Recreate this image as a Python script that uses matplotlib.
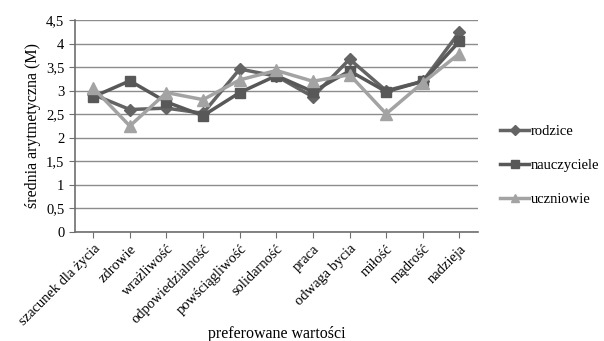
import matplotlib
matplotlib.use("Agg")
import matplotlib.pyplot as plt
from matplotlib.ticker import FuncFormatter

categories = ["szacunek dla życia", "zdrowie", "wrażliwość", "odpowiedzialność",
              "powściągliwość", "solidarność", "praca", "odwaga bycia",
              "miłość", "mądrość", "nadzieja"]
rodzice = [2.92, 2.60, 2.63, 2.52, 3.46, 3.31, 2.87, 3.67, 3.00, 3.20, 4.25]
nauczyciele = [2.87, 3.21, 2.76, 2.47, 2.96, 3.32, 2.98, 3.42, 2.98, 3.20, 4.05]
uczniowie = [3.06, 2.25, 2.96, 2.81, 3.23, 3.43, 3.20, 3.34, 2.51, 3.17, 3.79]
yticks = [0, 0.5, 1, 1.5, 2, 2.5, 3, 3.5, 4, 4.5]

plt.rcParams['font.family'] = ['Liberation Serif', 'DejaVu Serif']

fig = plt.figure(figsize=(6.04, 3.41), dpi=100)
ax = fig.add_axes([0.124, 0.320, 0.667, 0.621])

x = list(range(len(categories)))
ax.plot(x, rodzice, color='#646464', lw=2.5, marker='D', ms=6.5, label='rodzice', zorder=3)
ax.plot(x, nauczyciele, color='#585858', lw=2.5, marker='s', ms=7, label='nauczyciele', zorder=3)
ax.plot(x, uczniowie, color='#a3a3a3', lw=2.5, marker='^', ms=8, label='uczniowie', zorder=4)

ax.set_xlim(-0.5, len(categories) - 0.5)
ax.set_ylim(0, 4.5)
ax.set_yticks(yticks)
ax.yaxis.set_major_formatter(FuncFormatter(lambda v, p: ('%g' % v).replace('.', ',')))
ax.grid(axis='y', color='#8c8c8c', lw=1)
ax.set_axisbelow(True)
for s in ['top', 'right']:
    ax.spines[s].set_visible(False)
for s in ['left', 'bottom']:
    ax.spines[s].set_color('#6e6e6e')
    ax.spines[s].set_linewidth(1.2)
ax.set_xticks(x)
ax.set_xticklabels(categories, rotation=45, ha='right', rotation_mode='anchor', fontsize=10.5)
ax.tick_params(axis='both', colors='#6e6e6e', labelcolor='black', length=4, labelsize=10.5)
ax.set_ylabel('średnia arytmetyczna (M)', fontsize=11.5)
ax.set_xlabel('preferowane wartości', fontsize=11.5, labelpad=-2)

fig.legend(loc='center left', bbox_to_anchor=(0.828, 0.515), frameon=False,
           fontsize=10.5, handlelength=2.0, labelspacing=1.4, handletextpad=0.1,
           markerscale=0.75, borderpad=0, borderaxespad=0)

fig.savefig('out.png', dpi=100)
